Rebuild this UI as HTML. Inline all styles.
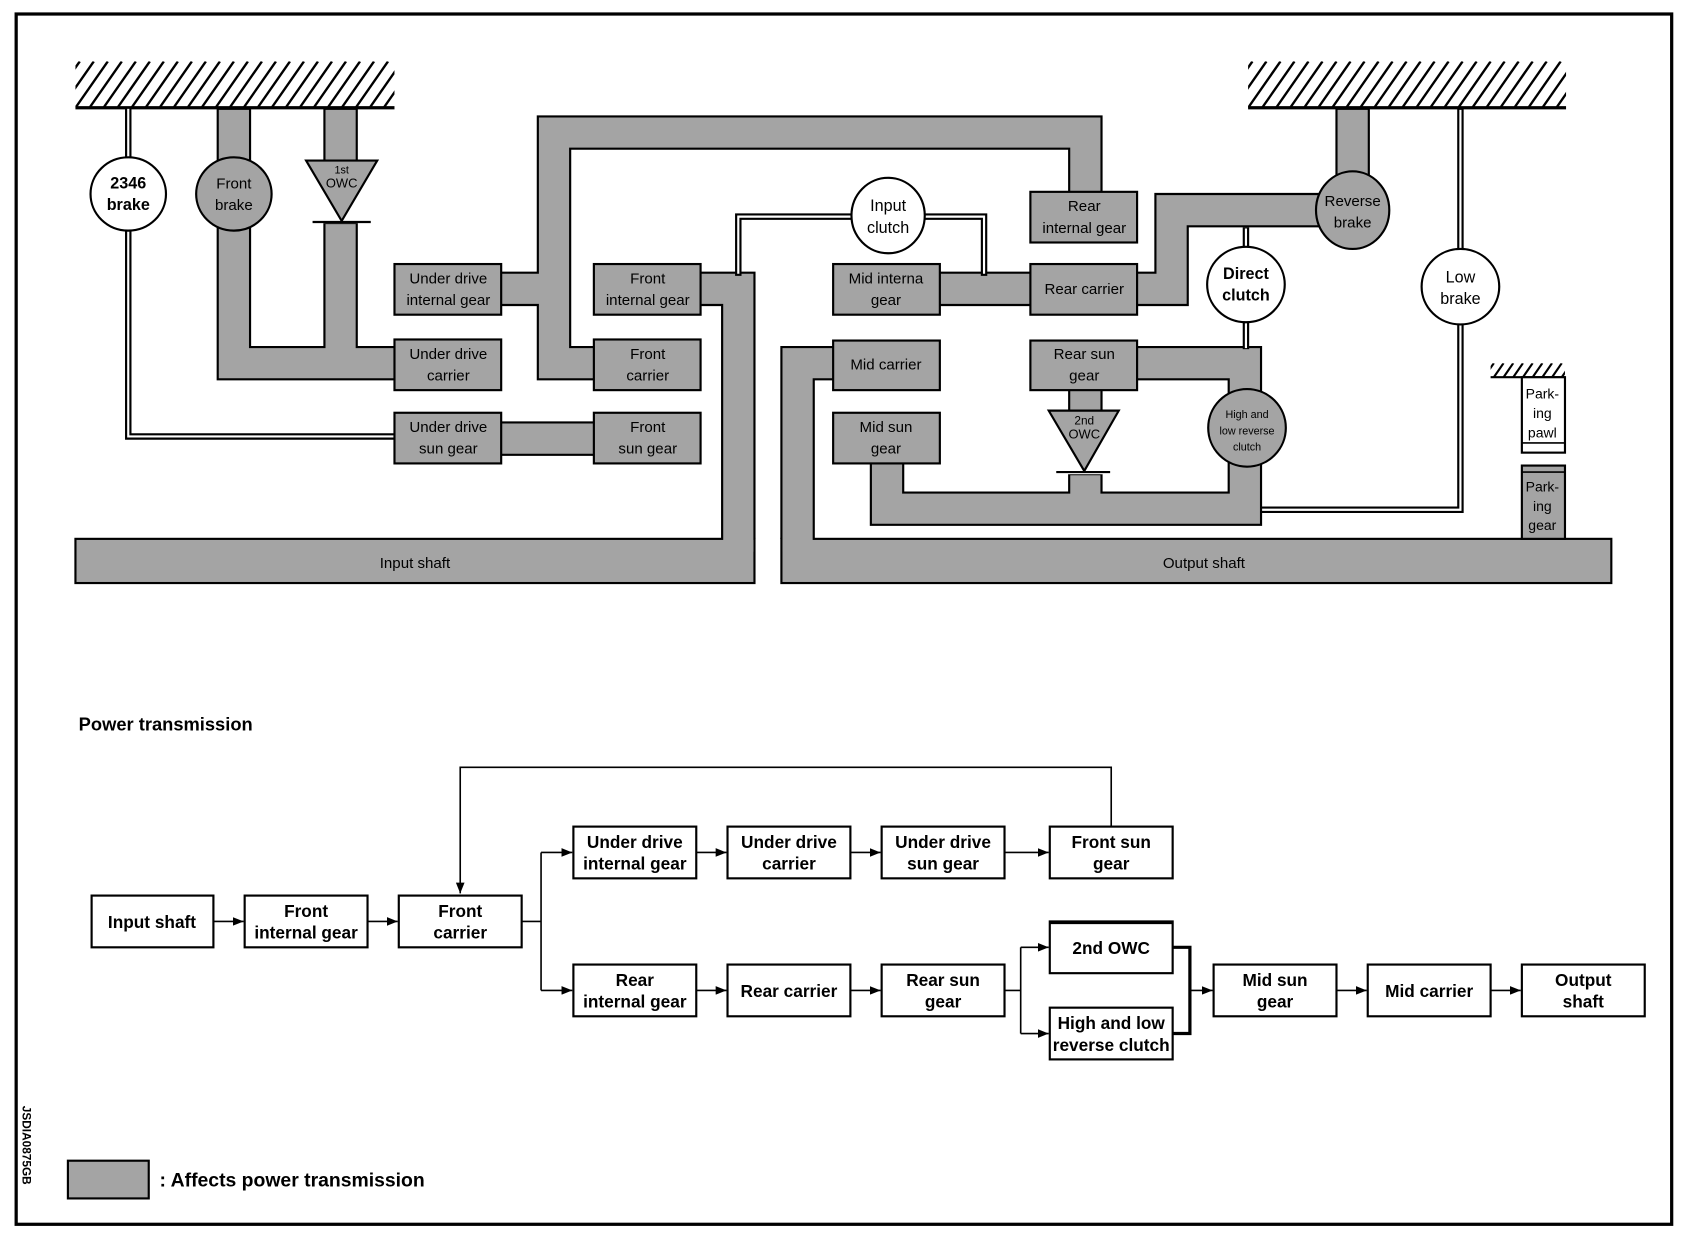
<!DOCTYPE html>
<html><head><meta charset="utf-8"><style>
html,body{margin:0;padding:0;background:#fff;}
svg{display:block;}
text{font-family:"Liberation Sans",Arial,sans-serif;}
</style></head><body>
<svg width="1690" height="1248" viewBox="0 0 1568 1158" preserveAspectRatio="none" xmlns="http://www.w3.org/2000/svg">
<defs>
<clipPath id="c1"><rect x="70" y="57" width="296" height="43"/></clipPath>
<clipPath id="c2"><rect x="1158" y="57" width="295" height="43"/></clipPath>
<clipPath id="c3"><rect x="1383" y="337" width="69" height="13"/></clipPath>
<marker id="ar" markerWidth="10" markerHeight="8" refX="10" refY="4" orient="auto" markerUnits="userSpaceOnUse">
<path d="M0,0 L10,4 L0,8 z" fill="#000"/>
</marker>
</defs>
<rect x="0" y="0" width="1568" height="1158" fill="#fff"/>
<rect x="15" y="13" width="1536" height="1123" fill="none" stroke="#000" stroke-width="3"/>

<!-- ground hatches -->
<g clip-path="url(#c1)" stroke="#000" stroke-width="2.2">
<line x1="44" y1="100" x2="74" y2="57"/><line x1="57" y1="100" x2="87" y2="57"/><line x1="70" y1="100" x2="100" y2="57"/><line x1="83" y1="100" x2="113" y2="57"/><line x1="96" y1="100" x2="126" y2="57"/><line x1="109" y1="100" x2="139" y2="57"/><line x1="122" y1="100" x2="152" y2="57"/><line x1="135" y1="100" x2="165" y2="57"/><line x1="148" y1="100" x2="178" y2="57"/><line x1="161" y1="100" x2="191" y2="57"/><line x1="174" y1="100" x2="204" y2="57"/><line x1="187" y1="100" x2="217" y2="57"/><line x1="200" y1="100" x2="230" y2="57"/><line x1="213" y1="100" x2="243" y2="57"/><line x1="226" y1="100" x2="256" y2="57"/><line x1="239" y1="100" x2="269" y2="57"/><line x1="252" y1="100" x2="282" y2="57"/><line x1="265" y1="100" x2="295" y2="57"/><line x1="278" y1="100" x2="308" y2="57"/><line x1="291" y1="100" x2="321" y2="57"/><line x1="304" y1="100" x2="334" y2="57"/><line x1="317" y1="100" x2="347" y2="57"/><line x1="330" y1="100" x2="360" y2="57"/><line x1="343" y1="100" x2="373" y2="57"/><line x1="356" y1="100" x2="386" y2="57"/>
</g>
<line x1="70" y1="100" x2="366" y2="100" stroke="#000" stroke-width="3"/>
<g clip-path="url(#c2)" stroke="#000" stroke-width="2.2">
<line x1="1132" y1="100" x2="1162" y2="57"/><line x1="1145" y1="100" x2="1175" y2="57"/><line x1="1158" y1="100" x2="1188" y2="57"/><line x1="1171" y1="100" x2="1201" y2="57"/><line x1="1184" y1="100" x2="1214" y2="57"/><line x1="1197" y1="100" x2="1227" y2="57"/><line x1="1210" y1="100" x2="1240" y2="57"/><line x1="1223" y1="100" x2="1253" y2="57"/><line x1="1236" y1="100" x2="1266" y2="57"/><line x1="1249" y1="100" x2="1279" y2="57"/><line x1="1262" y1="100" x2="1292" y2="57"/><line x1="1275" y1="100" x2="1305" y2="57"/><line x1="1288" y1="100" x2="1318" y2="57"/><line x1="1301" y1="100" x2="1331" y2="57"/><line x1="1314" y1="100" x2="1344" y2="57"/><line x1="1327" y1="100" x2="1357" y2="57"/><line x1="1340" y1="100" x2="1370" y2="57"/><line x1="1353" y1="100" x2="1383" y2="57"/><line x1="1366" y1="100" x2="1396" y2="57"/><line x1="1379" y1="100" x2="1409" y2="57"/><line x1="1392" y1="100" x2="1422" y2="57"/><line x1="1405" y1="100" x2="1435" y2="57"/><line x1="1418" y1="100" x2="1448" y2="57"/><line x1="1431" y1="100" x2="1461" y2="57"/><line x1="1444" y1="100" x2="1474" y2="57"/>
</g>
<line x1="1158" y1="100" x2="1453" y2="100" stroke="#000" stroke-width="3"/>
<g clip-path="url(#c3)" stroke="#000" stroke-width="2">
<line x1="1377" y1="350" x2="1386" y2="337"/><line x1="1386" y1="350" x2="1395" y2="337"/><line x1="1395" y1="350" x2="1404" y2="337"/><line x1="1404" y1="350" x2="1413" y2="337"/><line x1="1413" y1="350" x2="1422" y2="337"/><line x1="1422" y1="350" x2="1431" y2="337"/><line x1="1431" y1="350" x2="1440" y2="337"/><line x1="1440" y1="350" x2="1449" y2="337"/><line x1="1449" y1="350" x2="1458" y2="337"/>
</g>
<line x1="1383" y1="350" x2="1452" y2="350" stroke="#000" stroke-width="2"/>

<!-- shafts -->
<rect x="70" y="500" width="630" height="41" fill="#a4a4a4" stroke="#000" stroke-width="2"/>
<rect x="725" y="500" width="770" height="41" fill="#a4a4a4" stroke="#000" stroke-width="2"/>

<!-- bands pass 1 (black) -->
<g fill="none" stroke="#000" stroke-width="32" stroke-linejoin="miter">
<path d="M217,101 V337 H370"/>
<path d="M316,101 V150"/>
<path d="M316,207 V337"/>
<path d="M460,268 H514"/>
<path d="M555,337 H514 V123 H1007 V182"/>
<path d="M460,407 H556"/>
<path d="M645,268 H685 V500"/>
<path d="M868,268 H960"/>
<path d="M1050,268 H1087 V195 H1230"/>
<path d="M1255,101 V165"/>
<path d="M1050,337 H1155 V472 H823 V425"/>
<path d="M1007,358 V385"/>
<path d="M1007,440 V472"/>
<path d="M778,337 H740 V500"/>
</g>
<!-- bands pass 2 (grey) -->
<g fill="none" stroke="#a4a4a4" stroke-width="28" stroke-linejoin="miter">
<path d="M217,102 V337 H370"/>
<path d="M316,102 V150"/>
<path d="M316,208 V337"/>
<path d="M460,268 H514"/>
<path d="M555,337 H514 V123 H1007 V182"/>
<path d="M460,407 H556"/>
<path d="M645,268 H685 V512"/>
<path d="M868,268 H960"/>
<path d="M1050,268 H1087 V195 H1230"/>
<path d="M1255,102 V165"/>
<path d="M1050,337 H1155 V472 H823 V425"/>
<path d="M1007,358 V385"/>
<path d="M1007,441 V472"/>
<path d="M778,337 H740 V512"/>
</g>

<!-- double lines -->
<g fill="none" stroke="#000" stroke-width="6">
<path d="M119,100 V150"/>
<path d="M119,210 V405 H370"/>
<path d="M685,256 V201 H792"/>
<path d="M856,201 H913 V256"/>
<path d="M1156,211 V232"/>
<path d="M1156,296 V324"/>
<path d="M1355,101 V233"/>
<path d="M1355,299 V473 H1170"/>
</g>
<g fill="none" stroke="#fff" stroke-width="2">
<path d="M119,101 V150"/>
<path d="M119,210 V405 H369"/>
<path d="M685,254 V201 H792"/>
<path d="M856,201 H913 V254"/>
<path d="M1156,212 V232"/>
<path d="M1156,296 V323"/>
<path d="M1355,102 V233"/>
<path d="M1355,299 V473 H1171"/>
</g>

<!-- ellipses / OWCs -->
<ellipse cx="119" cy="180" rx="35" ry="34" fill="#fff" stroke="#000" stroke-width="2"/>
<ellipse cx="217" cy="180" rx="35" ry="34" fill="#a4a4a4" stroke="#000" stroke-width="2"/>
<polygon points="284,149 350,149 317,205" fill="#a4a4a4" stroke="#000" stroke-width="2"/>
<line x1="290" y1="206" x2="344" y2="206" stroke="#000" stroke-width="2"/>
<ellipse cx="824" cy="200" rx="34" ry="35" fill="#fff" stroke="#000" stroke-width="2"/>
<ellipse cx="1255" cy="195" rx="34" ry="36" fill="#a4a4a4" stroke="#000" stroke-width="2"/>
<ellipse cx="1156" cy="264" rx="36" ry="35" fill="#fff" stroke="#000" stroke-width="2"/>
<ellipse cx="1355" cy="266" rx="36" ry="35" fill="#fff" stroke="#000" stroke-width="2"/>
<ellipse cx="1157" cy="397" rx="36" ry="36" fill="#a4a4a4" stroke="#000" stroke-width="2"/>
<polygon points="973,381 1038,381 1006,437" fill="#a4a4a4" stroke="#000" stroke-width="2"/>
<line x1="980" y1="438" x2="1030" y2="438" stroke="#000" stroke-width="2"/>

<!-- grey boxes -->
<g fill="#a4a4a4" stroke="#000" stroke-width="2">
<rect x="366" y="245" width="99" height="47"/>
<rect x="366" y="315" width="99" height="47"/>
<rect x="366" y="383" width="99" height="47"/>
<rect x="551" y="245" width="99" height="47"/>
<rect x="551" y="315" width="99" height="47"/>
<rect x="551" y="383" width="99" height="47"/>
<rect x="773" y="245" width="99" height="47"/>
<rect x="773" y="316" width="99" height="46"/>
<rect x="773" y="383" width="99" height="47"/>
<rect x="956" y="178" width="99" height="47"/>
<rect x="956" y="245" width="99" height="47"/>
<rect x="956" y="316" width="99" height="46"/>
<rect x="1412" y="432" width="40" height="68"/>
</g>
<line x1="1412" y1="438" x2="1452" y2="438" stroke="#000" stroke-width="1.5"/>
<rect x="1412" y="350" width="40" height="70" fill="#fff" stroke="#000" stroke-width="2"/>
<line x1="1412" y1="411" x2="1452" y2="411" stroke="#000" stroke-width="1.5"/>

<!-- top labels -->
<g font-size="14" text-anchor="middle" fill="#000">
<text x="119" y="175" font-weight="bold" font-size="15">2346</text>
<text x="119" y="195" font-weight="bold" font-size="15">brake</text>
<text x="217" y="175">Front</text><text x="217" y="195">brake</text>
<text x="317" y="161" font-size="10">1st</text><text x="317" y="174" font-size="12">OWC</text>
<text x="416" y="263">Under drive</text><text x="416" y="283">internal gear</text>
<text x="416" y="333">Under drive</text><text x="416" y="353">carrier</text>
<text x="416" y="401">Under drive</text><text x="416" y="421">sun gear</text>
<text x="601" y="263">Front</text><text x="601" y="283">internal gear</text>
<text x="601" y="333">Front</text><text x="601" y="353">carrier</text>
<text x="601" y="401">Front</text><text x="601" y="421">sun gear</text>
<text x="824" y="196" font-size="15">Input</text><text x="824" y="216" font-size="15">clutch</text>
<text x="822" y="263">Mid interna</text><text x="822" y="283">gear</text>
<text x="822" y="343">Mid carrier</text>
<text x="822" y="401">Mid sun</text><text x="822" y="421">gear</text>
<text x="1006" y="196">Rear</text><text x="1006" y="216">internal gear</text>
<text x="1006" y="273">Rear carrier</text>
<text x="1006" y="333">Rear sun</text><text x="1006" y="353">gear</text>
<text x="1006" y="394" font-size="11">2nd</text><text x="1006" y="407" font-size="12">OWC</text>
<text x="1255" y="191">Reverse</text><text x="1255" y="211">brake</text>
<text x="1156" y="259" font-weight="bold" font-size="15">Direct</text><text x="1156" y="279" font-weight="bold" font-size="15">clutch</text>
<text x="1355" y="262" font-size="15">Low</text><text x="1355" y="282" font-size="15">brake</text>
<text x="1157" y="388" font-size="10">High and</text><text x="1157" y="403" font-size="10">low reverse</text><text x="1157" y="418" font-size="10">clutch</text>
<text x="1431" y="370" font-size="13">Park-</text><text x="1431" y="388" font-size="13">ing</text><text x="1431" y="406" font-size="13">pawl</text>
<text x="1431" y="456" font-size="13">Park-</text><text x="1431" y="474" font-size="13">ing</text><text x="1431" y="492" font-size="13">gear</text>
<text x="385" y="527">Input shaft</text>
<text x="1117" y="527">Output shaft</text>
</g>

<!-- lower flow -->
<text x="73" y="678" font-size="17" font-weight="bold">Power transmission</text>
<g fill="#fff" stroke="#000" stroke-width="2">
<rect x="85" y="831" width="113" height="48"/>
<rect x="227" y="831" width="114" height="48"/>
<rect x="370" y="831" width="114" height="48"/>
<rect x="532" y="767" width="114" height="48"/>
<rect x="675" y="767" width="114" height="48"/>
<rect x="818" y="767" width="114" height="48"/>
<rect x="974" y="767" width="114" height="48"/>
<rect x="532" y="895" width="114" height="48"/>
<rect x="675" y="895" width="114" height="48"/>
<rect x="818" y="895" width="114" height="48"/>
<rect x="974" y="855" width="114" height="48"/>
<rect x="974" y="935" width="114" height="48"/>
<rect x="1126" y="895" width="114" height="48"/>
<rect x="1269" y="895" width="114" height="48"/>
<rect x="1412" y="895" width="114" height="48"/>
</g>
<line x1="974" y1="856" x2="1088" y2="856" stroke="#000" stroke-width="3"/>
<g font-size="16" text-anchor="middle" font-weight="bold">
<text x="141" y="861">Input shaft</text>
<text x="284" y="851">Front</text><text x="284" y="871">internal gear</text>
<text x="427" y="851">Front</text><text x="427" y="871">carrier</text>
<text x="589" y="787">Under drive</text><text x="589" y="807">internal gear</text>
<text x="732" y="787">Under drive</text><text x="732" y="807">carrier</text>
<text x="875" y="787">Under drive</text><text x="875" y="807">sun gear</text>
<text x="1031" y="787">Front sun</text><text x="1031" y="807">gear</text>
<text x="589" y="915">Rear</text><text x="589" y="935">internal gear</text>
<text x="732" y="925">Rear carrier</text>
<text x="875" y="915">Rear sun</text><text x="875" y="935">gear</text>
<text x="1031" y="885">2nd OWC</text>
<text x="1031" y="955">High and low</text><text x="1031" y="975">reverse clutch</text>
<text x="1183" y="915">Mid sun</text><text x="1183" y="935">gear</text>
<text x="1326" y="925">Mid carrier</text>
<text x="1469" y="915">Output</text><text x="1469" y="935">shaft</text>
</g>
<g fill="none" stroke="#000" stroke-width="1.5">
<path d="M1031,767 V712 H427 V829" marker-end="url(#ar)"/>
<path d="M198,855 H226" marker-end="url(#ar)"/>
<path d="M341,855 H369" marker-end="url(#ar)"/>
<path d="M484,855 H502"/>
<path d="M502,791 V919"/>
<path d="M502,791 H531" marker-end="url(#ar)"/>
<path d="M502,919 H531" marker-end="url(#ar)"/>
<path d="M646,791 H674" marker-end="url(#ar)"/>
<path d="M789,791 H817" marker-end="url(#ar)"/>
<path d="M932,791 H973" marker-end="url(#ar)"/>
<path d="M646,919 H674" marker-end="url(#ar)"/>
<path d="M789,919 H817" marker-end="url(#ar)"/>
<path d="M932,919 H947"/>
<path d="M947,879 V959"/>
<path d="M947,879 H973" marker-end="url(#ar)"/>
<path d="M947,959 H973" marker-end="url(#ar)"/>
<path d="M1104,919 H1125" marker-end="url(#ar)"/>
<path d="M1240,919 H1268" marker-end="url(#ar)"/>
<path d="M1383,919 H1411" marker-end="url(#ar)"/>
</g>
<path d="M1088,879 H1104 V959 H1088" fill="none" stroke="#000" stroke-width="3"/>

<!-- legend -->
<rect x="63" y="1077" width="75" height="35" fill="#a4a4a4" stroke="#000" stroke-width="2"/>
<text x="148" y="1101" font-size="18" font-weight="bold">: Affects power transmission</text>
<text x="0" y="0" font-size="11" font-weight="bold" transform="translate(21,1026) rotate(90)">JSDIA0875GB</text>
</svg>
</body></html>
